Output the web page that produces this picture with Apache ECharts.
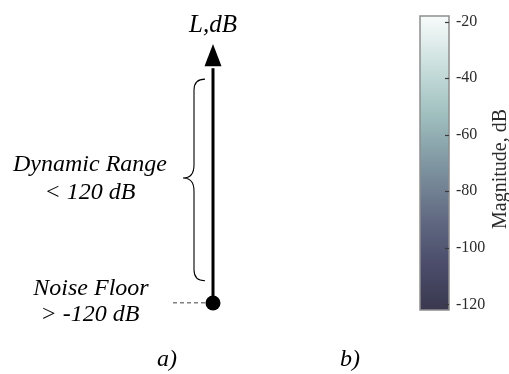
<!DOCTYPE html>
<html>
<head>
<meta charset="utf-8">
<script src="https://cdn.jsdelivr.net/npm/echarts@6/dist/echarts.min.js"></script>
<style>
html, body { margin: 0; padding: 0; background: #fff; }
#main { width: 509px; height: 374px; }
</style>
</head>
<body>
<div id="main"></div>
<script>
// level axis (panel a), values in dB
const noiseFloor = -120;
const arrowHeadBase = 8;
const arrowTip = 20;
const dynamicRange = [-108, 1];
const leaderX = [-0.8, 0];
const axisTitle = 'L,dB';
const rangeText = ['Dynamic Range', '< 120 dB'];
const floorText = ['Noise Floor', '> -120 dB'];
const panelLabels = ['a)', 'b)'];

// colorbar (panel b)
const colorRange = [-122, -18];
const colorTicks = [-120, -100, -80, -60, -40, -20];
const colorName = 'Magnitude, dB';
const colormap = ['#39384f', '#4c4e6c', '#656f86', '#8097a2', '#a0c0bf', '#cbe0de', '#f8fbfb'];

const serif = '"Liberation Serif", "Times New Roman", serif';

const chart = echarts.init(document.getElementById('main'));

function label(text, x, y, size) {
    return {
        type: 'text', x: x, y: y,
        style: { text: text, font: 'italic ' + size + 'px ' + serif, fill: '#000', textAlign: 'center', textVerticalAlign: 'middle' }
    };
}

const option = {
    backgroundColor: '#fff',
    animation: false,
    grid: [
        { left: 163, width: 100, top: 44, bottom: 71, outerBoundsMode: 'none', containLabel: false },
        { left: 420, width: 29, top: 16, bottom: 64, outerBoundsMode: 'none', containLabel: false }
    ],
    xAxis: [
        { gridIndex: 0, type: 'value', min: -1, max: 1, show: false },
        { gridIndex: 1, type: 'value', min: 0, max: 1, show: false }
    ],
    yAxis: [
        { gridIndex: 0, type: 'value', min: -120, max: 20, show: false },
        {
            gridIndex: 1, type: 'value', position: 'right',
            min: colorRange[0], max: colorRange[1],
            axisLine: { show: false, onZero: false },
            splitLine: { show: false },
            axisTick: { show: false },
            axisLabel: {
                customValues: colorTicks,
                margin: 7,
                fontFamily: serif, fontSize: 16, color: '#2b2b2b'
            },
            name: colorName,
            nameLocation: 'middle',
            nameGap: 42,
            nameTextStyle: { fontFamily: serif, fontSize: 20, color: '#2b2b2b', padding: [0, 12, 0, 0] }
        }
    ],
    series: [
        {
            // dashed leader to the noise floor
            type: 'line',
            xAxisIndex: 0, yAxisIndex: 0,
            data: [[leaderX[0], noiseFloor], [leaderX[1], noiseFloor]],
            symbol: 'none',
            lineStyle: { color: '#000', width: 1, type: [4, 3] },
            z: 1
        },
        {
            // level axis with arrow and noise floor dot
            type: 'custom',
            xAxisIndex: 0, yAxisIndex: 0,
            data: [[0, noiseFloor, arrowHeadBase, arrowTip]],
            renderItem: function (params, api) {
                const p0 = api.coord([api.value(0), api.value(1)]);
                const pb = api.coord([api.value(0), api.value(2)]);
                const pt = api.coord([api.value(0), api.value(3)]);
                return {
                    type: 'group',
                    children: [
                        { type: 'line', shape: { x1: p0[0], y1: p0[1], x2: pb[0], y2: pb[1] + 2 },
                          style: { stroke: '#000', lineWidth: 3 } },
                        { type: 'polygon', shape: { points: [[pt[0], pt[1]], [pb[0] - 8.5, pb[1]], [pb[0] + 8.5, pb[1]]] },
                          style: { fill: '#000' } },
                        { type: 'circle', shape: { cx: p0[0], cy: p0[1], r: 7.5 },
                          style: { fill: '#000' } }
                    ]
                };
            },
            z: 3
        },
        {
            // curly brace for the dynamic range
            type: 'custom',
            xAxisIndex: 0, yAxisIndex: 0,
            data: [[0, dynamicRange[0], dynamicRange[1]]],
            renderItem: function (params, api) {
                const bot = api.coord([api.value(0), api.value(1)]);
                const top = api.coord([api.value(0), api.value(2)]);
                const xh = bot[0] - 8, xv = bot[0] - 19, xt = bot[0] - 30;
                const t = top[1], b = bot[1], m = (t + b) / 2 - 2;
                const r = 11, r2 = 13;
                const d = 'M' + xh + ' ' + t +
                    ' Q' + xv + ' ' + t + ' ' + xv + ' ' + (t + r) +
                    ' L' + xv + ' ' + (m - r2) +
                    ' Q' + xv + ' ' + m + ' ' + xt + ' ' + m +
                    ' Q' + xv + ' ' + m + ' ' + xv + ' ' + (m + r2) +
                    ' L' + xv + ' ' + (b - r) +
                    ' Q' + xv + ' ' + b + ' ' + xh + ' ' + b;
                return {
                    type: 'path',
                    shape: { pathData: d },
                    style: { stroke: '#000', lineWidth: 1.1, fill: null }
                };
            },
            z: 2
        },
        {
            // colorbar with inner ticks on its right edge
            type: 'custom',
            xAxisIndex: 1, yAxisIndex: 1,
            data: [[colorRange[0], colorRange[1]]],
            renderItem: function (params, api) {
                const tl = api.coord([0, api.value(1)]);
                const br = api.coord([1, api.value(0)]);
                const stops = colormap.map(function (c, i) {
                    return { offset: i / (colormap.length - 1), color: c };
                });
                const children = [{
                    type: 'rect',
                    shape: { x: tl[0], y: tl[1], width: br[0] - tl[0], height: br[1] - tl[1] },
                    style: {
                        fill: new echarts.graphic.LinearGradient(0, 1, 0, 0, stops),
                        stroke: '#8e8e8e', lineWidth: 1.5
                    }
                }];
                colorTicks.forEach(function (v) {
                    const p = api.coord([1, v]);
                    children.push({
                        type: 'line',
                        shape: { x1: p[0] - 4, y1: Math.round(p[1]) + 0.5, x2: p[0], y2: Math.round(p[1]) + 0.5 },
                        style: { stroke: '#3a3a3a', lineWidth: 1.2 }
                    });
                });
                return { type: 'group', children: children };
            },
            z: 1
        }
    ],
    graphic: [
        label(axisTitle, 213, 25, 25),
        label(rangeText[0], 90, 165, 24),
        label(rangeText[1], 90, 193, 24),
        label(floorText[0], 91, 289, 24),
        label(floorText[1], 90, 315, 24),
        label(panelLabels[0], 167, 360, 24),
        label(panelLabels[1], 350, 360, 24)
    ]
};

chart.setOption(option);
</script>
</body>
</html>
